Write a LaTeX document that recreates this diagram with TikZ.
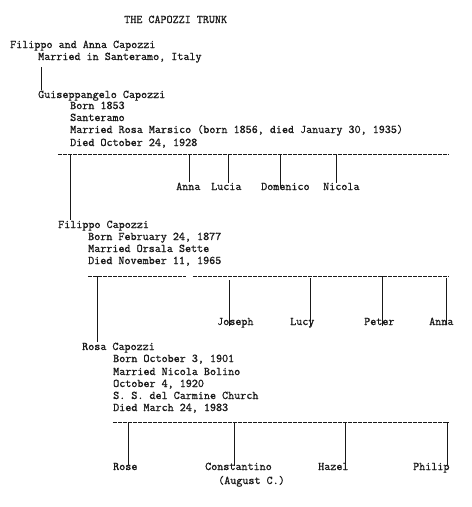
\documentclass[tikz,border=0pt]{standalone}
\usepackage{fontspec}
\newfontfamily\tyfont{Latin Modern Mono}[FakeBold=0.9]
\begin{document}
\begin{tikzpicture}[x=1pt,y=-1pt,
  txt/.style={anchor=base west,inner sep=0pt,font=\tyfont\fontsize{11.75}{13}\selectfont,text=black!90},
  bar/.style={line width=0.7pt,dash pattern=on 3.5pt off 1.5pt,black!90},
  link/.style={line width=0.7pt,black!90}]
\useasboundingbox[fill=white] (0,0) rectangle (472,507);
% title
\node[txt] (title) at (124,23) {THE CAPOZZI TRUNK};
% generation 0
\node[txt] (fa) at (10,48) {Filippo and Anna Capozzi};
\node[txt] (fa1) at (38,60) {Married in Santeramo, Italy};
% Guiseppangelo
\node[txt] (gu) at (38,98) {Guiseppangelo Capozzi};
\node[txt] (gu1) at (70,109) {Born 1853};
\node[txt] (gu2) at (70,121) {Santeramo};
\node[txt] (gu3) at (70,133) {Married Rosa Marsico (born 1856, died January 30, 1935)};
\node[txt] (gu4) at (70,146) {Died October 24, 1928};
\coordinate (c0) at (41,67);
\draw[link] (c0) -- (c0 |- gu.north);
\coordinate (b1s) at (58,154);
\coordinate (b1e) at (449,154);
\draw[bar] (b1s) -- (b1e);
\node[txt] (anna1) at (176,190) {Anna};
\node[txt] (lucia) at (211,190) {Lucia};
\node[txt] (dom) at (261,190) {Domenico};
\node[txt] (nic) at (323,190) {Nicola};
\coordinate (k1) at (189,154);
\coordinate (k2) at (228,154);
\coordinate (k3) at (280,154);
\coordinate (k4) at (336,154);
\draw[link] (k1) -- (k1 |- anna1.north);
\draw[link] (k2) -- (k2 |- lucia.north);
\draw[link] (k3) -- ([yshift=-4pt]k3 |- dom.north);
\draw[link] (k4) -- (k4 |- nic.north);
% Filippo
\node[txt] (fi) at (58,228) {Filippo Capozzi};
\node[txt] (fi1) at (88,240) {Born February 24, 1877};
\node[txt] (fi2) at (88,252) {Married Orsala Sette};
\node[txt] (fi3) at (88,264) {Died November 11, 1965};
\coordinate (c1) at (70,154);
\draw[link] (c1) -- (c1 |- fi.north);
\coordinate (b2s) at (88,276);
\coordinate (b2m) at (186,276);
\coordinate (b2n) at (193,276);
\coordinate (b2e) at (449,276);
\draw[bar] (b2s) -- (b2m);
\draw[bar] (b2n) -- (b2e);
\node[txt] (jos) at (217,325) {Joseph};
\node[txt] (lucy) at (290,325) {Lucy};
\node[txt] (pet) at (364,325) {Peter};
\node[txt] (anna2) at (429,325) {Anna};
\coordinate (m1) at (229,280);
\coordinate (m2) at (310,278);
\coordinate (m3) at (382,276);
\coordinate (m4) at (446,278);
\draw[link] (m1) -- ([yshift=-8pt]m1 |- jos.north);
\draw[link] (m2) -- ([yshift=-8pt]m2 |- lucy.north);
\draw[link] (m3) -- ([yshift=-8pt]m3 |- pet.north);
\draw[link] (m4) -- ([yshift=-8pt]m4 |- anna2.north);
% Rosa
\node[txt] (ro) at (82,350) {Rosa Capozzi};
\node[txt] (ro1) at (113,362) {Born October 3, 1901};
\node[txt] (ro2) at (113,375) {Married Nicola Bolino};
\node[txt] (ro3) at (113,387) {October 4, 1920};
\node[txt] (ro4) at (113,399) {S. S. del Carmine Church};
\node[txt] (ro5) at (113,411) {Died March 24, 1983};
\coordinate (c2) at (97,276);
\draw[link] (c2) -- (c2 |- ro.north);
\coordinate (b3s) at (113,422);
\coordinate (b3e) at (449,422);
\draw[bar] (b3s) -- (b3e);
\node[txt] (rose) at (113,470) {Rose};
\node[txt] (con) at (205,470) {Constantino};
\node[txt] (con2) at (218,484) {(August C.)};
\node[txt] (haz) at (318,470) {Hazel};
\node[txt] (phi) at (413,470) {Philip};
\coordinate (n1) at (128,422);
\coordinate (n2) at (234,422);
\coordinate (n3) at (345,422);
\coordinate (n4) at (447,422);
\draw[link] (n1) -- ([yshift=-2pt]n1 |- rose.north);
\draw[link] (n2) -- ([yshift=-4pt]n2 |- con.north);
\draw[link] (n3) -- ([yshift=-2pt]n3 |- haz.north);
\draw[link] (n4) -- ([yshift=-2pt]n4 |- phi.north);
\end{tikzpicture}
\end{document}
